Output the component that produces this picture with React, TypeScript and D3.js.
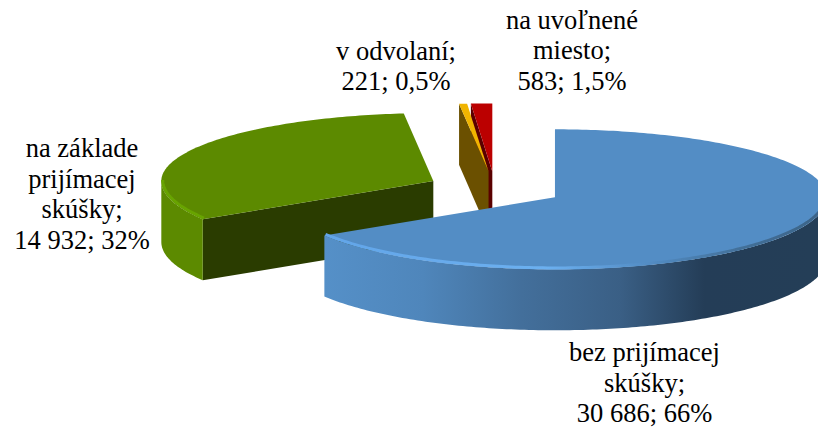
import React from "react";
import * as d3 from "d3";

const categories = ["bez prijímacej skúšky", "na základe prijímacej skúšky", "v odvolaní", "na uvoľnené miesto"];
const values = [30686, 14932, 221, 583];
const labels = [
  ["bez prijímacej", "skúšky;", "30 686; 66%"],
  ["na základe", "prijímacej", "skúšky;", "14 932; 32%"],
  ["v odvolaní;", "221; 0,5%"],
  ["na uvoľnené", "miesto;", "583; 1,5%"],
];
const labelAnchors = [
  [644.5, 361],
  [82, 157],
  [396, 59.5],
  [572, 28.5],
];
const topColors = ["#538dc5", "#5c8a00", "#f0b400", "#bb0000"];
const edgeColors = ["#2f5070", "#2a3c00", "#6b5000", "#5a0000"];

const width = 818;
const height = 428;
const cx = 495;
const cy = 188.5;
const rx = 272;
const ryBack = 68;
const ryFront = 72;
const depth = 61;
const explode = 0.252;
const lineHeight = 30.6;

type Pt = [number, number];

const slices = d3.pie<number>().sort(null)(values);

// ellipse position of an angle (clockwise from the top) for a slice's centre
const project = (a: number, c: Pt, r = 1): Pt => {
  const cos = Math.cos(a);
  return [c[0] + rx * r * Math.sin(a), c[1] - r * (cos > 0 ? ryBack : ryFront) * cos];
};

const arcPoints = (a0: number, a1: number, c: Pt, r = 1): Pt[] => {
  const n = Math.max(2, Math.ceil(Math.abs(a1 - a0) * 60));
  return d3.range(n + 1).map((i) => project(a0 + ((a1 - a0) * i) / n, c, r));
};

const line = d3.line<Pt>();
const shift = (pts: Pt[], dy: number): Pt[] => pts.map((p) => [p[0], p[1] + dy] as Pt);

const App = () => {
  const parts = slices.map((s, i) => {
    const mid = (s.startAngle + s.endAngle) / 2;
    const c = project(mid, [cx, cy], explode);
    const rim = arcPoints(s.startAngle, s.endAngle, c);
    const top = line([c, ...rim])! + "Z";
    const start = project(s.startAngle, c);
    const cut = line([c, start, [start[0], start[1] + depth], [c[0], c[1] + depth]])! + "Z";
    // only the front half of the rim has a visible outer wall
    const f0 = Math.max(s.startAngle, Math.PI / 2);
    const f1 = Math.min(s.endAngle, (3 * Math.PI) / 2);
    const front = f1 > f0 ? arcPoints(f0, f1, c) : [];
    const wall = front.length ? line([...front, ...shift(front, depth).reverse()])! + "Z" : "";
    const bevel = front.length ? line(shift(arcPoints(f0, f1, c, 0.995), -1))! : "";
    return { i, top, cut, wall, bevel };
  });

  return (
    <svg
      width={width}
      height={height}
      viewBox={`0 0 ${width} ${height}`}
      style={{ position: "fixed", left: 0, top: 0, background: "#fff" }}
      role="img"
      aria-label={categories.join(", ")}
    >
      <defs>
        <linearGradient id="wall0" gradientUnits="userSpaceOnUse" x1={324} x2={818} y1={0} y2={0}>
          <stop offset="0" stopColor="#5590c8" />
          <stop offset="0.2" stopColor="#4f86bb" />
          <stop offset="0.4" stopColor="#436f9b" />
          <stop offset="0.6" stopColor="#3a5f85" />
          <stop offset="0.77" stopColor="#243d57" />
          <stop offset="1" stopColor="#243e57" />
        </linearGradient>
        <linearGradient id="bevel0" gradientUnits="userSpaceOnUse" x1={324} x2={818} y1={0} y2={0}>
          <stop offset="0" stopColor="#62a5e8" />
          <stop offset="0.45" stopColor="#6cb0f0" />
          <stop offset="0.65" stopColor="#538dc5" />
          <stop offset="0.85" stopColor="#426f98" />
          <stop offset="1" stopColor="#3c6488" />
        </linearGradient>
        <filter id="soft" x="-5%" y="-20%" width="110%" height="140%">
          <feGaussianBlur stdDeviation="0.6" />
        </filter>
      </defs>
      {[...parts].reverse().map((p) => (
        <g key={p.i}>
          <path d={p.cut} fill={edgeColors[p.i]} />
          {p.wall && <path d={p.wall} fill={p.i === 0 ? "url(#wall0)" : topColors[p.i]} />}
          <path d={p.top} fill={topColors[p.i]} />
          {p.bevel && (
            <path
              d={p.bevel}
              fill="none"
              stroke={p.i === 0 ? "url(#bevel0)" : "#68a400"}
              strokeWidth={3}
              filter="url(#soft)"
            />
          )}
        </g>
      ))}
      {labels.map((rows, i) => (
        <text
          key={i}
          textAnchor="middle"
          fontFamily="'Liberation Serif', serif"
          fontSize={26.5}
          fill="#000"
        >
          {rows.map((row, j) => (
            <tspan key={j} x={labelAnchors[i][0]} y={labelAnchors[i][1] + j * lineHeight}>
              {row}
            </tspan>
          ))}
        </text>
      ))}
    </svg>
  );
};

export default App;
